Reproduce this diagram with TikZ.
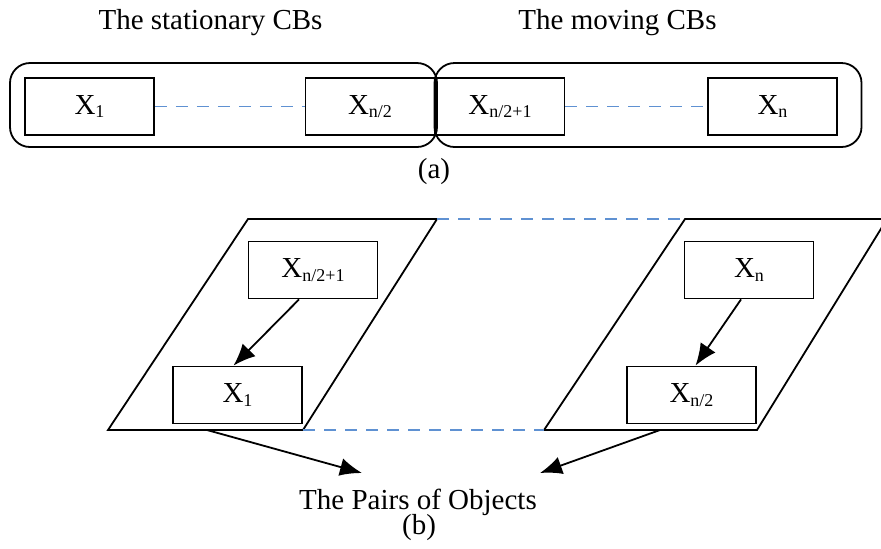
\documentclass[tikz,border=0pt]{standalone}
\usepackage{fontspec}
\setmainfont{Liberation Serif}
\usetikzlibrary{arrows.meta}
\definecolor{dashblue}{RGB}{95,145,210}
\newcommand{\sub}[1]{\raisebox{-0.25ex}{\fontsize{9}{10}\selectfont #1}}

\begin{document}
\begin{tikzpicture}[
x=0.5pt, y=-0.5pt,
font=\fontsize{14.5}{17}\selectfont,
line width=0.9pt,
obj/.style={
draw,
minimum width=64.5pt,
minimum height=28.5pt,
inner sep=0pt
},
group/.style={
draw,
rounded corners=10pt,
minimum width=213.5pt,
minimum height=42pt
},
link/.style={dashblue, dashed, dash pattern=on 6pt off 4.5pt, line width=0.8pt},
pointer/.style={-{Latex[length=11pt,width=9pt]}}
]
\useasboundingbox (0,0) rectangle (881,548);

% (a)
\node (S) at (210.5,23) {The stationary CBs};
\node (M) at (617.5,23) {The moving CBs};

\node[group] (GS) at (223.5,105) {};
\node[group] (GM) at (648,105) {};

\node[obj] (A1) at (89.5,106.5) {X\sub{1}};
\node[obj] (A2) at (370,106.5) {X\sub{n/2}};
\node[obj] (A3) at (500,106.5) {X\sub{n/2+1}};
\node[obj] (A4) at (772.5,106.5) {X\sub{n}};

\draw[link] (A1) -- (A2);
\draw[link] (A3) -- (A4);

\node (a) at (434,172) {(a)};

% (b)
\coordinate (L1) at (248,219);
\coordinate (L2) at (437,219);
\coordinate (L3) at (303,430);
\coordinate (L4) at (108,430);
\coordinate (R1) at (685,219);
\coordinate (R2) at (887,219);
\coordinate (R3) at (757,430);
\coordinate (R4) at (544,430);

\draw (L1) -- (L2) -- (L3) -- (L4) -- cycle;
\draw (R1) -- (R2) -- (R3) -- (R4) -- cycle;

\draw[link] (L2) -- (R1);
\draw[link] (L3) -- (R4);

\node[obj] (B1) at (313,270) {X\sub{n/2+1}};
\node[obj] (B2) at (237.5,395) {X\sub{1}};
\node[obj] (B3) at (749,270) {X\sub{n}};
\node[obj] (B4) at (691.5,395) {X\sub{n/2}};

\draw[pointer] ([xshift=-7pt]B1.south) -- ([xshift=-2pt]B2.north);
\draw[pointer] ([xshift=-4pt]B3.south) -- ([xshift=2pt]B4.north);

\node (P) at (418,502) {The Pairs of Objects};
\node (b) at (419,528) {(b)};

\coordinate (PL) at (207,430);
\coordinate (PR) at (660,430);
\coordinate (TL) at (362,473);
\coordinate (TR) at (540,473);

\draw[pointer] (PL) -- (TL);
\draw[pointer] (PR) -- (TR);

\end{tikzpicture}
\end{document}
